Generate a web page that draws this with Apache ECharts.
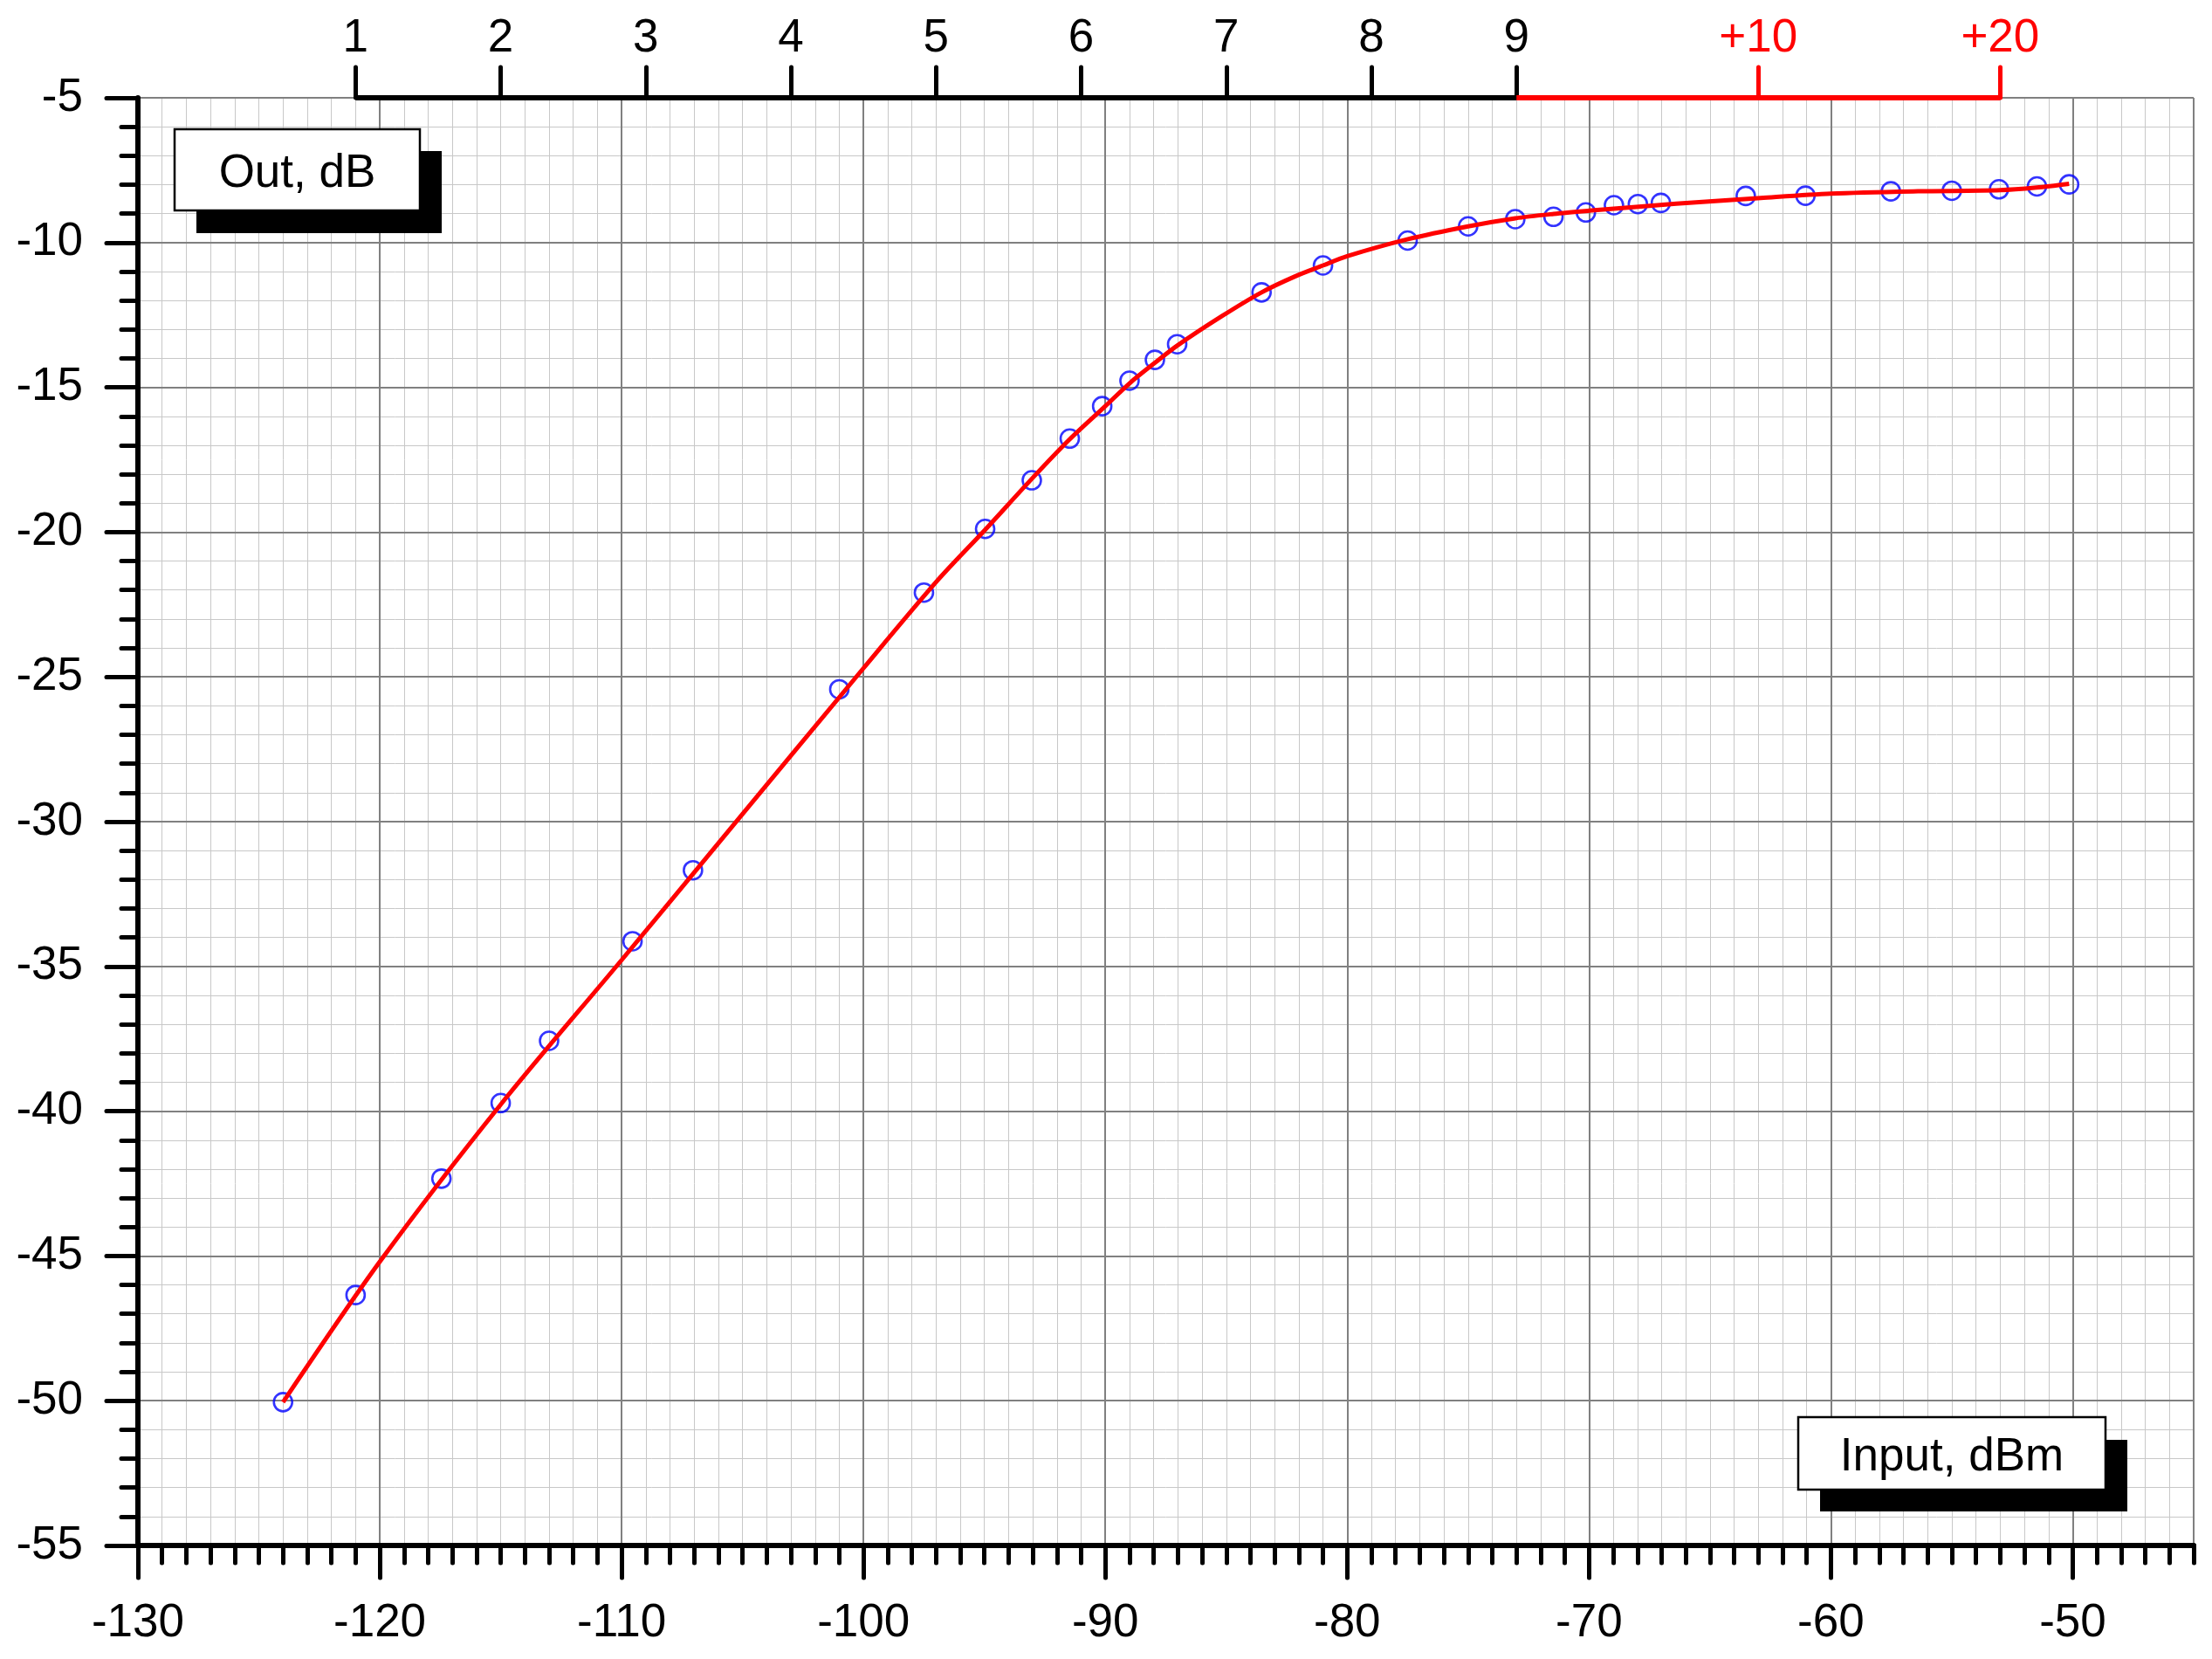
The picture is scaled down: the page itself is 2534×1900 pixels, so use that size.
<!DOCTYPE html>
<html>
<head>
<meta charset="utf-8">
<script src="https://cdn.jsdelivr.net/npm/echarts@6/dist/echarts.min.js"></script>
<style>
html,body{margin:0;padding:0;background:#fff;}
#chart{width:2534px;height:1900px;}
</style>
</head>
<body>
<div id="chart"></div>
<script>
// Measured points: input level (dBm) vs output (dB)
const inputDbm = [-124.0, -121.0, -117.45, -115.0, -113.0, -109.55, -107.05, -101.0, -97.5, -94.97,
  -93.04, -91.47, -90.13, -89.0, -87.95, -87.03, -83.54, -81.0, -77.5, -75.0,
  -73.05, -71.47, -70.13, -68.97, -67.98, -67.03, -63.52, -61.05, -57.52, -55.0,
  -53.05, -51.48, -50.15];
const outDb = [-50.05, -46.35, -42.33, -39.72, -37.57, -34.13, -31.68, -25.43, -22.09, -19.89,
  -18.21, -16.77, -15.65, -14.77, -14.05, -13.51, -11.72, -10.79, -9.93, -9.44,
  -9.19, -9.11, -8.96, -8.71, -8.67, -8.63, -8.39, -8.38, -8.23, -8.21,
  -8.16, -8.06, -7.99];

// Fitted curve (red)
const fitX = [-124.0, -120.0, -115.0, -110.0, -105.4, -100.0, -96.96, -94.97, -93.04, -91.48,
  -90.0, -88.97, -87.93, -87.03, -85.16, -83.54, -82.16, -81.0, -80.0, -77.52,
  -75.0, -73.04, -71.46, -70.0, -67.95, -66.39, -62.9, -60.0, -56.4, -53.0,
  -51.5, -50.15];
const fitY = [-50.05, -45.2, -39.77, -34.78, -30.14, -24.7, -21.69, -19.92, -18.16, -16.8,
  -15.65, -14.84, -14.14, -13.56, -12.53, -11.72, -11.17, -10.79, -10.47, -9.89,
  -9.44, -9.16, -9.01, -8.9, -8.76, -8.66, -8.46, -8.31, -8.23, -8.19,
  -8.1, -7.97];

// Top S-meter scale
const sValues = [-121, -115, -109, -103, -97, -91, -85, -79, -73];
const sLabels = ['1', '2', '3', '4', '5', '6', '7', '8', '9'];
const plusValues = [-63, -53];
const plusLabels = ['+10', '+20'];

// Bottom axis major tick labels
const xMajorTicks = [-130, -120, -110, -100, -90, -80, -70, -60, -50];

const X_MIN = -130, X_MAX = -45, Y_MIN = -55, Y_MAX = -5;
const FONT = '"Liberation Sans", Arial, sans-serif';
const FS = 53;

function pick(values, labels) {
  return function (v) {
    for (let i = 0; i < values.length; i++) {
      if (Math.abs(values[i] - v) < 0.01) return labels[i];
    }
    return '';
  };
}

const off = {show: false};
function baseX(extra) {
  return Object.assign({
    type: 'value', min: X_MIN, max: X_MAX, position: 'bottom',
    axisLine: {show: false, onZero: false}, axisTick: off, axisLabel: off, splitLine: off
  }, extra);
}
function baseY(extra) {
  return Object.assign({
    type: 'value', min: Y_MIN, max: Y_MAX, position: 'left',
    axisLine: {show: false, onZero: false}, axisTick: off, axisLabel: off, splitLine: off
  }, extra);
}

const chart = echarts.init(document.getElementById('chart'), null, {renderer: 'canvas'});

const option = {
  animation: false,
  backgroundColor: '#ffffff',
  grid: {left: 158, top: 112, width: 2355, height: 1658, containLabel: false},
  xAxis: [
    // 0: minor grid
    baseX({interval: 1, z: 1, splitLine: {show: true, lineStyle: {color: '#c8c8c8', width: 1}}}),
    // 1: major grid
    baseX({interval: 10, z: 2, splitLine: {show: true, lineStyle: {color: '#808080', width: 2}}}),
    // 2: axis line + minor ticks
    baseX({interval: 1, z: 3,
      axisLine: {show: true, onZero: false, lineStyle: {color: '#000', width: 6}},
      axisTick: {show: true, length: 20, lineStyle: {color: '#000', width: 5, cap: 'round'}}}),
    // 3: major ticks + labels
    baseX({interval: 10, z: 4,
      axisTick: {show: true, length: 37, customValues: xMajorTicks, lineStyle: {color: '#000', width: 5, cap: 'round'}},
      axisLabel: {show: true, customValues: xMajorTicks, margin: 63, color: '#000', fontSize: FS, fontFamily: FONT}}),
    // 4: top S-scale (black)
    baseX({position: 'top', interval: 10, z: 4,
      axisTick: {show: true, length: 35, customValues: sValues, lineStyle: {color: '#000', width: 5, cap: 'round'}},
      axisLabel: {show: true, customValues: sValues, margin: 41, color: '#000', fontSize: FS, fontFamily: FONT,
        formatter: pick(sValues, sLabels)}}),
    // 5: top S-scale (red, over S9)
    baseX({position: 'top', interval: 10, z: 4,
      axisTick: {show: true, length: 35, customValues: plusValues, lineStyle: {color: '#ff0000', width: 5, cap: 'round'}},
      axisLabel: {show: true, customValues: plusValues, margin: 41, color: '#ff0000', fontSize: FS, fontFamily: FONT,
        formatter: pick(plusValues, plusLabels)}})
  ],
  yAxis: [
    // 0: minor grid
    baseY({interval: 1, z: 1, splitLine: {show: true, lineStyle: {color: '#c8c8c8', width: 1}}}),
    // 1: major grid
    baseY({interval: 5, z: 2, splitLine: {show: true, lineStyle: {color: '#808080', width: 2}}}),
    // 2: axis line, ticks, labels
    baseY({interval: 5, z: 4,
      axisLine: {show: true, onZero: false, lineStyle: {color: '#000', width: 6}},
      axisTick: {show: true, length: 36, lineStyle: {color: '#000', width: 5, cap: 'round'}},
      minorTick: {show: true, splitNumber: 5, length: 19, lineStyle: {color: '#000', width: 5, cap: 'round'}},
      axisLabel: {show: true, margin: 63, color: '#000', fontSize: FS, fontFamily: FONT}})
  ],
  series: [
    {
      name: 'S-scale',
      type: 'line', xAxisIndex: 0, yAxisIndex: 0, z: 8, clip: false, silent: true,
      showSymbol: false, symbol: 'none',
      lineStyle: {color: '#000', width: 6},
      data: [[sValues[0], Y_MAX], [sValues[sValues.length - 1], Y_MAX]]
    },
    {
      name: 'S-plus',
      type: 'line', xAxisIndex: 0, yAxisIndex: 0, z: 8, clip: false, silent: true,
      showSymbol: false, symbol: 'none',
      lineStyle: {color: '#ff0000', width: 6},
      data: [[sValues[sValues.length - 1], Y_MAX], [plusValues[plusValues.length - 1], Y_MAX]]
    },
    {
      name: 'Measured',
      type: 'scatter', xAxisIndex: 0, yAxisIndex: 0, z: 6,
      symbol: 'circle', symbolSize: 21,
      itemStyle: {color: 'rgba(0,0,0,0)', borderColor: '#0000ff', borderWidth: 2.6},
      data: inputDbm.map((x, i) => [x, outDb[i]])
    },
    {
      name: 'Fit',
      type: 'line', xAxisIndex: 0, yAxisIndex: 0, z: 7,
      showSymbol: false, symbol: 'none', smooth: 0.3,
      lineStyle: {color: '#ff0000', width: 5},
      data: fitX.map((x, i) => [x, fitY[i]])
    }
  ],
  graphic: [
    {type: 'rect', z: 20, shape: {x: 225, y: 173, width: 281, height: 94}, style: {fill: '#000'}},
    {type: 'rect', z: 21, shape: {x: 200, y: 148, width: 281, height: 93}, style: {fill: '#fff', stroke: '#000', lineWidth: 2.5}},
    {type: 'text', z: 22, x: 340.5, y: 199.5,
      style: {text: 'Out, dB', fill: '#000', fontSize: FS, fontFamily: FONT, align: 'center', verticalAlign: 'middle'}},
    {type: 'rect', z: 20, shape: {x: 2085, y: 1649, width: 352, height: 82}, style: {fill: '#000'}},
    {type: 'rect', z: 21, shape: {x: 2060, y: 1623, width: 352, height: 83}, style: {fill: '#fff', stroke: '#000', lineWidth: 2.5}},
    {type: 'text', z: 22, x: 2236, y: 1669.5,
      style: {text: 'Input, dBm', fill: '#000', fontSize: FS, fontFamily: FONT, align: 'center', verticalAlign: 'middle'}}
  ]
};
chart.setOption(option);
</script>
</body>
</html>
